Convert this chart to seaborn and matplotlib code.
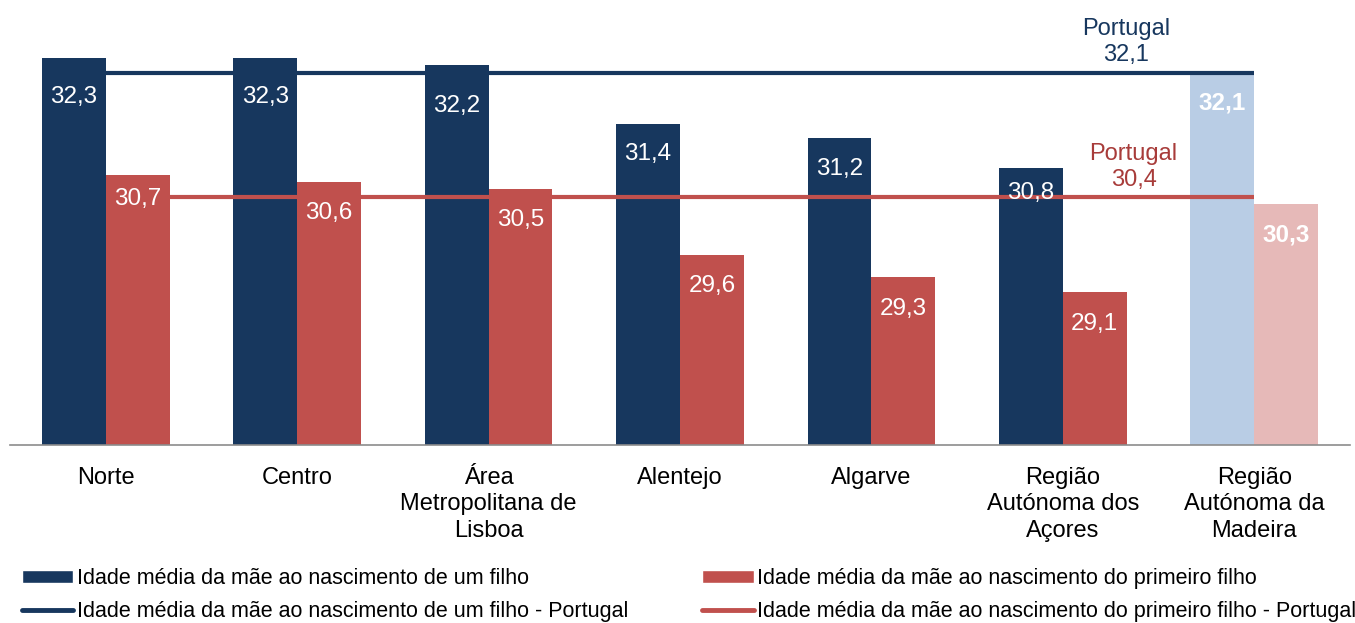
import matplotlib
matplotlib.use("Agg")
import matplotlib.pyplot as plt
import seaborn as sns
import pandas as pd
from matplotlib.patches import Patch
from matplotlib.lines import Line2D

# dados
regioes = ["Norte", "Centro", "Área\nMetropolitana de\nLisboa", "Alentejo", "Algarve",
           "Região\nAutónoma dos\nAçores", "Região\nAutónoma da\nMadeira"]
idade_um_filho = [32.3, 32.3, 32.2, 31.4, 31.2, 30.8, 32.1]
idade_primeiro_filho = [30.7, 30.6, 30.5, 29.6, 29.3, 29.1, 30.3]
portugal_um_filho = 32.1
portugal_primeiro_filho = 30.4

serie_um = "Idade média da mãe ao nascimento de um filho"
serie_primeiro = "Idade média da mãe ao nascimento do primeiro filho"

AZUL = "#17375E"
VERMELHO = "#C0504D"
AZUL_CLARO = "#B9CDE5"
VERMELHO_CLARO = "#E6B9B8"

df = pd.DataFrame({
    "regiao": regioes * 2,
    "idade": idade_um_filho + idade_primeiro_filho,
    "serie": [serie_um] * len(regioes) + [serie_primeiro] * len(regioes),
})

sns.set_style("white")
plt.rcParams["font.family"] = ["Liberation Sans", "DejaVu Sans"]
plt.rcParams["text.color"] = "black"
plt.rcParams["xtick.labelcolor"] = "black"

fig = plt.figure(figsize=(13.55, 6.23), dpi=100)
ax = fig.add_axes([0.0074, 0.2857, 0.9889, 0.7031])

sns.barplot(data=df, x="regiao", y="idade", hue="serie", order=regioes,
            hue_order=[serie_um, serie_primeiro], palette=[AZUL, VERMELHO],
            width=0.667, gap=0, saturation=1, errorbar=None, legend=False,
            linewidth=0, ax=ax)

ax.set_ylim(27, 33)
ax.set_xlim(-0.5, len(regioes) - 0.5)

# Madeira em cores claras
ax.containers[0][-1].set_facecolor(AZUL_CLARO)
ax.containers[1][-1].set_facecolor(VERMELHO_CLARO)

# linhas de Portugal
ax.hlines(portugal_um_filho, 0, len(regioes) - 1, color=AZUL, lw=3, zorder=1)
ax.hlines(portugal_primeiro_filho, 0, len(regioes) - 1, color=VERMELHO, lw=3, zorder=5)
ax.annotate("Portugal\n" + f"{portugal_um_filho:.1f}".replace(".", ","),
            (5.33, portugal_um_filho), xytext=(0, 22), textcoords="offset points",
            ha="center", va="center", fontsize=17, color=AZUL, linespacing=1.22)
ax.annotate("Portugal\n" + f"{portugal_primeiro_filho:.1f}".replace(".", ","),
            (5.37, portugal_primeiro_filho), xytext=(0, 21.5), textcoords="offset points",
            ha="center", va="center", fontsize=17, color="#A83C3A", linespacing=1.22)

# rótulos dos valores (deslocamento em pontos abaixo do topo)
desloc_um = [-28, -28, -29, -22, -22, -18, -22]
desloc_primeiro = [-17, -22, -22, -22, -23, -23, -22]
for cont, vals, desl in [(ax.containers[0], idade_um_filho, desloc_um),
                         (ax.containers[1], idade_primeiro_filho, desloc_primeiro)]:
    for i, (bar, v) in enumerate(zip(cont, vals)):
        ax.annotate(f"{v:.1f}".replace(".", ","),
                    (bar.get_x() + bar.get_width() / 2, bar.get_height()),
                    xytext=(0, desl[i]), textcoords="offset points",
                    ha="center", va="center", fontsize=17.5, color="white",
                    fontweight="bold" if i == len(vals) - 1 else "normal", zorder=6)

# eixos
sns.despine(ax=ax, left=True, top=True, right=True)
ax.spines["bottom"].set_color("#8C8C8C")
ax.spines["bottom"].set_linewidth(1.2)
ax.set_yticks([])
ax.set_xlabel("")
ax.set_ylabel("")
ax.set_xticks(range(len(regioes)))
ax.set_xticklabels(regioes, fontsize=17, linespacing=1.28, color="black")
ax.tick_params(axis="x", which="major", length=0, pad=15.5)
ax.set_xticks([i - 0.5 for i in range(len(regioes) + 1)], minor=True)
ax.tick_params(axis="x", which="minor", length=8, width=1.2, color="#8C8C8C", direction="out")

# legenda
handles = [Patch(facecolor=AZUL, label=serie_um),
           Line2D([], [], color=AZUL, lw=3.5, label=serie_um + " - Portugal"),
           Patch(facecolor=VERMELHO, label=serie_primeiro),
           Line2D([], [], color=VERMELHO, lw=3.5, label=serie_primeiro + " - Portugal")]
fig.legend(handles=handles, loc="upper left", bbox_to_anchor=(0.016, 0.088), ncol=2,
           frameon=False, fontsize=15.5, handlelength=2.4, handleheight=0.5,
           handletextpad=0.15, columnspacing=3.45, labelspacing=0.55,
           borderpad=0, borderaxespad=0, labelcolor="black")

fig.savefig("out.png", dpi=100)
